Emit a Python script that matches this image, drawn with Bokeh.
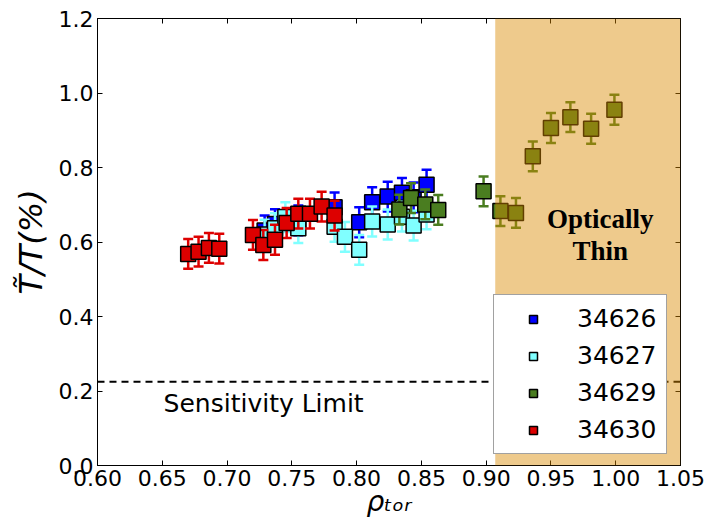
import numpy as np
from bokeh.plotting import figure
from bokeh.models import (FixedTicker, PrintfTickFormatter, LinearAxis, BoxAnnotation,
                          Span, Label, Legend, LegendItem, Range1d, CustomJSTickFormatter)
from bokeh.embed import file_html
from bokeh.resources import INLINE

# ---------------- data ----------------
shots = ["34626", "34627", "34629", "34630"]

rho_34626 = [0.729, 0.737, 0.755, 0.783, 0.802, 0.812, 0.824, 0.835, 0.844, 0.854]
val_34626 = [0.631, 0.648, 0.658, 0.693, 0.653, 0.707, 0.722, 0.732, 0.720, 0.754]
err_34626 = [0.04, 0.04, 0.04, 0.04, 0.04, 0.04, 0.04, 0.04, 0.04, 0.04]

rho_34627 = [0.729, 0.737, 0.745, 0.755, 0.783, 0.791, 0.802, 0.812, 0.824, 0.835, 0.844, 0.854]
val_34627 = [0.620, 0.637, 0.667, 0.637, 0.641, 0.614, 0.579, 0.655, 0.647, 0.668, 0.644, 0.674]
err_34627 = [0.04, 0.04, 0.04, 0.04, 0.04, 0.04, 0.04, 0.04, 0.04, 0.04, 0.04, 0.04]

rho_34629 = [0.833, 0.842, 0.853, 0.863, 0.898, 0.911, 0.923, 0.936, 0.950, 0.965, 0.981, 0.999]
val_34629 = [0.687, 0.718, 0.701, 0.686, 0.736, 0.683, 0.678, 0.830, 0.906, 0.935, 0.904, 0.955]
err_34629 = [0.04, 0.04, 0.04, 0.04, 0.04, 0.04, 0.04, 0.04, 0.04, 0.04, 0.04, 0.04]

rho_34630 = [0.670, 0.678, 0.686, 0.694, 0.720, 0.728, 0.737, 0.746, 0.755, 0.764, 0.773, 0.783]
val_34630 = [0.568, 0.574, 0.584, 0.582, 0.619, 0.592, 0.606, 0.651, 0.676, 0.676, 0.695, 0.671]
err_34630 = [0.04, 0.04, 0.04, 0.04, 0.04, 0.04, 0.04, 0.04, 0.04, 0.04, 0.04, 0.04]

series_colors = ["#0000FF", "#80FFFF", "#4A7D20", "#DD0000"]

x_ticks = [0.60, 0.65, 0.70, 0.75, 0.80, 0.85, 0.90, 0.95, 1.00, 1.05]
y_ticks = [0.0, 0.2, 0.4, 0.6, 0.8, 1.0, 1.2]

sensitivity_limit = 0.225
optically_thin_start = 0.907

# ---------------- figure ----------------
p = figure(width=707, height=527, output_backend="svg", toolbar_location=None,
           x_range=Range1d(0.60, 1.05), y_range=Range1d(0.0, 1.2),
           min_border_left=97, min_border_right=27, min_border_top=18, min_border_bottom=62)
p.xgrid.visible = False
p.ygrid.visible = False
p.outline_line_color = "black"
p.outline_line_width = 1
p.background_fill_color = "white"
p.border_fill_color = "white"

for ax, tk, fmt in ((p.xaxis[0], x_ticks, "%.2f"), (p.yaxis[0], y_ticks, "%.1f")):
    ax.ticker = FixedTicker(ticks=tk)
    ax.formatter = PrintfTickFormatter(format=fmt)
    ax.major_tick_in = 5
    ax.major_tick_out = 0
    ax.minor_tick_in = 0
    ax.minor_tick_out = 0
    ax.axis_line_color = "black"
    ax.major_tick_line_color = "black"
    ax.major_label_text_font = "DejaVu Sans"
    ax.major_label_text_font_size = "22px"
    ax.major_label_text_color = "black"
    ax.major_label_standoff = 4

p.yaxis[0].axis_label = "T\u0303/T(%)"
p.yaxis[0].axis_label_text_font = "DejaVu Sans"
p.yaxis[0].axis_label_text_font_style = "italic"
p.yaxis[0].axis_label_text_font_size = "32px"
p.yaxis[0].axis_label_text_color = "black"
p.yaxis[0].axis_label_standoff = 6

p.xaxis[0].axis_label = "ρₜₒᵣ"
p.xaxis[0].axis_label_text_font = "DejaVu Sans"
p.xaxis[0].axis_label_text_font_style = "italic"
p.xaxis[0].axis_label_text_font_size = "28px"
p.xaxis[0].axis_label_text_color = "black"
p.xaxis[0].axis_label_standoff = -4

for loc, tk in (("above", x_ticks), ("right", y_ticks)):
    a = LinearAxis(ticker=FixedTicker(ticks=tk),
                   formatter=CustomJSTickFormatter(code="return ''"),
                   major_tick_in=5, major_tick_out=0, minor_tick_in=0, minor_tick_out=0,
                   axis_line_color=None, major_tick_line_color="black",
                   major_label_text_font_size="1px", major_label_standoff=0)
    p.add_layout(a, loc)

# sensitivity limit
p.add_layout(Span(location=sensitivity_limit, dimension="width", line_color="black",
                  line_width=2, line_dash="7 5", level="underlay"))

# ---------------- series ----------------
all_rho = [rho_34626, rho_34627, rho_34629, rho_34630]
all_val = [val_34626, val_34627, val_34629, val_34630]
all_err = [err_34626, err_34627, err_34629, err_34630]

legend_renderers = []
for rho, val, err, col in zip(all_rho, all_val, all_err, series_colors):
    rho = np.array(rho)
    val = np.array(val)
    err = np.array(err)
    p.segment(x0=rho, y0=val - err, x1=rho, y1=val + err, line_color=col, line_width=2.5)
    p.scatter(x=rho, y=val + err, marker="dash", size=10, line_color=col, line_width=2.5)
    p.scatter(x=rho, y=val - err, marker="dash", size=10, line_color=col, line_width=2.5)
    r = p.scatter(x=rho, y=val, marker="square", size=15, fill_color=col,
                  line_color="black", line_width=1.5)
    legend_renderers.append(r)

# optically thin region (drawn over the points)
p.add_layout(BoxAnnotation(left=optically_thin_start, fill_color="#D98A00", fill_alpha=0.45,
                           line_color=None, line_alpha=0))

for txt, yy in (("Optically", 0.663), ("Thin", 0.577)):
    p.add_layout(Label(x=0.988, y=yy, text=txt, text_align="center", text_baseline="middle",
                       text_font="Liberation Serif", text_font_style="bold",
                       text_font_size="27px", text_color="black"))

p.add_layout(Label(x=0.651, y=0.166, text="Sensitivity Limit", text_align="left",
                   text_baseline="middle", text_font="DejaVu Sans", text_font_size="25px",
                   text_color="black"))

legend = Legend(items=[LegendItem(label=s, renderers=[r]) for s, r in zip(shots, legend_renderers)],
                location=(396, 11), glyph_width=60, glyph_height=20, label_height=20,
                spacing=8, padding=9, margin=0, label_standoff=14,
                label_text_font="DejaVu Sans", label_text_font_size="25px",
                label_text_color="black", border_line_color="#444444", border_line_width=1.5,
                background_fill_color="white", background_fill_alpha=1.0)
p.add_layout(legend)

open("out.html", "w").write(file_html(p, INLINE))
